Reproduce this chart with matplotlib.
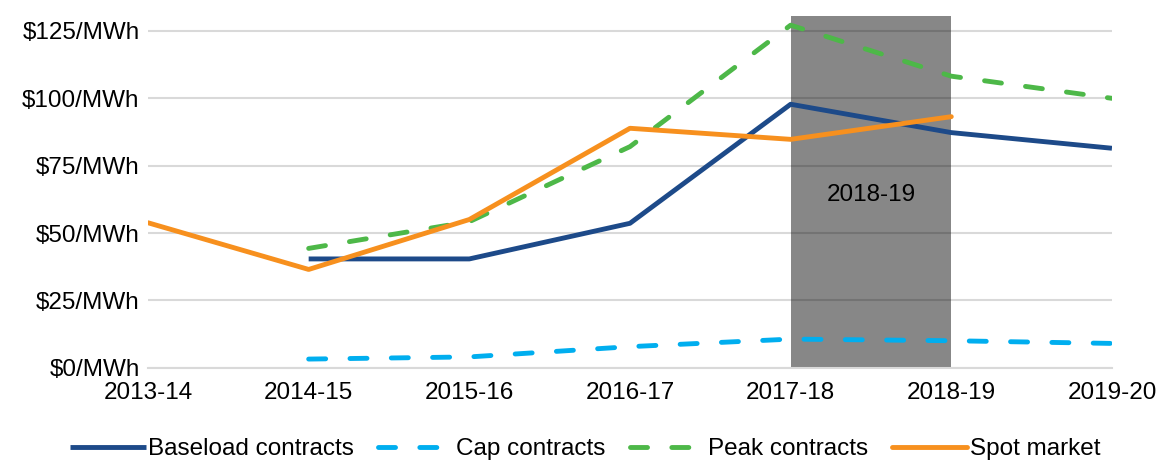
import matplotlib
matplotlib.use("Agg")
import matplotlib.pyplot as plt
from matplotlib.ticker import FuncFormatter

plt.rcParams['font.family'] = ['Liberation Sans', 'DejaVu Sans']

years = ['2013-14', '2014-15', '2015-16', '2016-17', '2017-18', '2018-19', '2019-20']
baseload = [None, 40.4, 40.4, 53.6, 97.7, 87.2, 81.4]
cap = [None, 3.3, 4.1, 7.9, 10.7, 10.1, 9.1]
peak = [None, 44.3, 54.2, 82.0, 127.0, 108.1, 99.9]
spot = [53.8, 36.5, 55.0, 88.8, 84.7, 93.1, None]
yticks = [0, 25, 50, 75, 100, 125]
highlight_label = '2018-19'

def pts(vals):
    xs = [i for i, v in enumerate(vals) if v is not None]
    ys = [v for v in vals if v is not None]
    return xs, ys

FS = 17.5
fig = plt.figure(figsize=(11.59, 4.62), dpi=100)
ax = fig.add_axes([0.1277, 0.2035, 0.8317, 0.7619])

ax.set_xlim(0, len(years) - 1)
ax.set_ylim(0, 130.4)
ax.set_yticks(yticks)
ax.yaxis.set_major_formatter(FuncFormatter(lambda v, p: f'${int(v)}/MWh'))
ax.set_xticks(range(len(years)))
ax.set_xticklabels(years)
ax.grid(axis='y', color='#D9D9D9', linewidth=1.5, zorder=0)
ax.set_axisbelow(True)
for s in ['top', 'right', 'left']:
    ax.spines[s].set_visible(False)
ax.spines['bottom'].set_color('#D9D9D9')
ax.spines['bottom'].set_linewidth(1.5)
ax.tick_params(axis='both', length=0, labelsize=FS, colors='black')
ax.tick_params(axis='x', pad=10)
ax.tick_params(axis='y', pad=6)

# highlight band
ax.axvspan(4, 5, color='black', alpha=0.47, zorder=1, linewidth=0)
ax.text(4.5, 64, highlight_label, ha='center', va='center', fontsize=FS, zorder=2)

lw = 3.5
x, y = pts(baseload)
ax.plot(x, y, color='#1D4A89', lw=lw, solid_capstyle='butt', label='Baseload contracts', zorder=3)
x, y = pts(cap)
ax.plot(x, y, color='#00AEEF', lw=lw, dashes=(3.5, 5), dash_capstyle='round', label='Cap contracts', zorder=3)
x, y = pts(peak)
ax.plot(x, y, color='#4DB848', lw=lw, dashes=(3.5, 5), dash_capstyle='round', label='Peak contracts', zorder=3)
x, y = pts(spot)
ax.plot(x, y, color='#F7901E', lw=lw, solid_capstyle='round', label='Spot market', zorder=4)

leg = fig.legend(loc='center', bbox_to_anchor=(0.505, 0.028), ncol=4, frameon=False,
                 fontsize=FS, handlelength=3.1, handletextpad=0.1, columnspacing=1.0)

fig.savefig('out.png', dpi=100)
